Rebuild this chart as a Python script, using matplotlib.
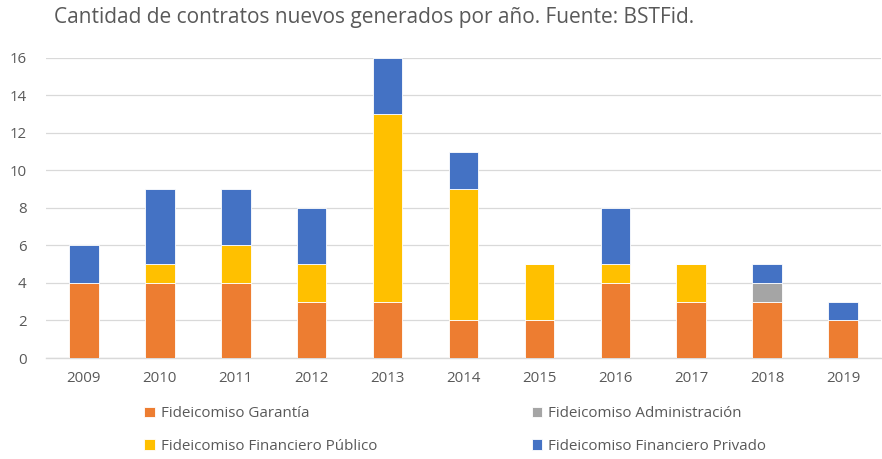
import matplotlib.pyplot as plt
import numpy as np

# data
years = ["2009", "2010", "2011", "2012", "2013", "2014", "2015", "2016", "2017", "2018", "2019"]
garantia = [4, 4, 4, 3, 3, 2, 2, 4, 3, 3, 2]
administracion = [0, 0, 0, 0, 0, 0, 0, 0, 0, 1, 0]
fin_publico = [0, 1, 2, 2, 10, 7, 3, 1, 2, 0, 0]
fin_privado = [2, 4, 3, 3, 3, 2, 0, 3, 0, 1, 1]

plt.rcParams['font.family'] = ['Open Sans', 'DejaVu Sans']
txt = '#595959'

fig = plt.figure(figsize=(8.82, 4.59), dpi=100)
ax = fig.add_axes([0.052, 0.22, 0.947, 0.654])

x = np.arange(len(years))
w = 0.39
series = [
    ("Fideicomiso Garantía", garantia, '#ED7D31'),
    ("Fideicomiso Administración", administracion, '#A5A5A5'),
    ("Fideicomiso Financiero Público", fin_publico, '#FFC000'),
    ("Fideicomiso Financiero Privado", fin_privado, '#4472C4'),
]
bottom = np.zeros(len(years))
handles = {}
for name, vals, col in series:
    vals = np.array(vals, dtype=float)
    b = ax.bar(x, vals, w, bottom=bottom, color=col, edgecolor='white', linewidth=0.6, label=name, zorder=3)
    handles[name] = b
    bottom += vals

ax.set_xlim(-0.5, len(years) - 0.5)
ax.set_ylim(0, 16)
ax.set_yticks(range(0, 17, 2))
ax.set_xticks(x)
ax.set_xticklabels(years)
ax.tick_params(length=0, colors=txt, labelsize=10.8)
ax.tick_params(axis='x', pad=9)
ax.tick_params(axis='y', pad=14)
ax.grid(axis='y', color='#D9D9D9', linewidth=0.9, zorder=0)
for s in ['top', 'right', 'left']:
    ax.spines[s].set_visible(False)
ax.spines['bottom'].set_color('#D9D9D9')
ax.spines['bottom'].set_linewidth(1.0)

fig.text(0.061, 0.962, "Cantidad de contratos nuevos generados por año. Fuente: BSTFid.",
         fontsize=15, color=txt, va='center', ha='left')

order = ["Fideicomiso Garantía", "Fideicomiso Financiero Público",
         "Fideicomiso Administración", "Fideicomiso Financiero Privado"]
leg = fig.legend([handles[n] for n in order], order, ncol=2, loc='center left',
                 bbox_to_anchor=(0.148, 0.063), frameon=False, fontsize=10.9,
                 handlelength=0.7, handleheight=0.7, handletextpad=0.4,
                 columnspacing=10.2, labelspacing=1.15)
for t in leg.get_texts():
    t.set_color(txt)

fig.savefig("out.png", dpi=100)
